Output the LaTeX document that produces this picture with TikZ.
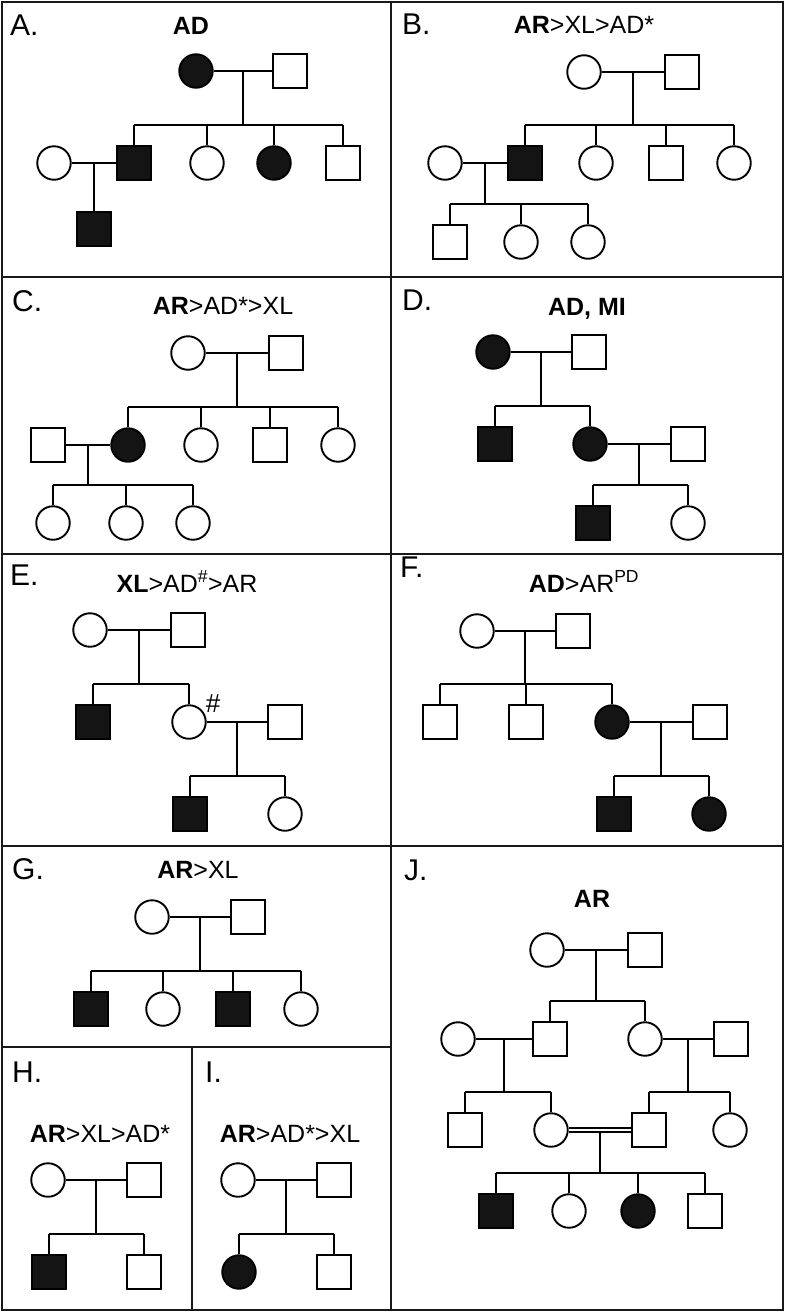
\documentclass[tikz,border=0pt]{standalone}
\usepackage{fontspec}
\setmainfont{Liberation Sans}
\usetikzlibrary{calc}
\definecolor{pedfill}{HTML}{141414}
\tikzset{
  male/.style={draw=black, line width=1.9pt, rectangle, minimum size=33.5pt, inner sep=0pt, fill=white},
  female/.style={draw=black, line width=1.9pt, circle, minimum size=33.5pt, inner sep=0pt, fill=white},
  affm/.style={male, fill=pedfill},
  afff/.style={female, fill=pedfill},
  link/.style={line width=2pt},
  panelframe/.style={draw=black!90, line width=2pt},
  plabel/.style={font=\fontsize{30}{30}\selectfont, anchor=base west, inner sep=0pt},
  ptitle/.style={font=\fontsize{25}{25}\selectfont, anchor=base, inner sep=0pt},
}
\newcommand{\SibRow}[3]{%
  \foreach \s/\x [count=\i] in {#3} {
    \node[\s] (#1\i) at (\x,#2) {};
  }
}
\newcommand{\SibLines}[3]{%
  \draw[link] (#11.north |- #3) -- (#1#2.north |- #3);
  \foreach \i in {1,...,#2} {
    \draw[link] (#1\i.north) -- (#1\i.north |- #3);
  }
}

\begin{document}
\begin{tikzpicture}[x=1pt, y=-1pt]
  \useasboundingbox (0,0) rectangle (785,1312);
  \draw[panelframe] (2,2) rectangle (783,1310);
  \draw[panelframe] (391,2) -- (391,1310);
  \draw[panelframe] (2,277) -- (783,277);
  \draw[panelframe] (2,554) -- (783,554);
  \draw[panelframe] (2,846) -- (783,846);
  \draw[panelframe] (2,1047) -- (391,1047);
  \draw[panelframe] (192,1047) -- (192,1310);

  % A
  \node[plabel] (Alab) at (10,35) {A.};
  \node[ptitle] (Atit) at (191,34) {\bfseries AD};
  \node[afff] (A1) at (196,71) {};
  \node[male] (A2) at (290,71) {};
  \SibRow{Ac}{163}{affm/134,female/207,afff/274,male/343}
  \node[female] (Asp) at (54,163) {};
  \node[affm] (Ag1) at (94,229) {};
  \coordinate (Amid) at ($(A1)!0.5!(A2)$);
  \coordinate (Asib) at ($(Amid |- Ac1)+(0,-38)$);
  \coordinate (Amid2) at ($(Asp)!0.5!(Ac1)$);
  \draw[link] (A1) -- (A2);
  \draw[link] (Amid) -- (Asib);
  \SibLines{Ac}{4}{Asib}
  \draw[link] (Asp) -- (Ac1);
  \draw[link] (Amid2) -- (Ag1);

  % B
  \node[plabel] (Blab) at (402,34) {B.};
  \node[ptitle] (Btit) at (584,33) {\textbf{AR}>XL>AD*};
  \node[female] (B1) at (584,72) {};
  \node[male] (B2) at (682,72) {};
  \SibRow{Bc}{163}{affm/525,female/596,male/666,female/734}
  \node[female] (Bsp) at (445,163) {};
  \SibRow{Bg}{242}{male/450,female/521,female/588}
  \coordinate (Bmid) at ($(B1)!0.5!(B2)$);
  \coordinate (Bsib) at ($(Bmid |- Bc1)+(0,-38)$);
  \coordinate (Bmid2) at ($(Bsp)!0.5!(Bc1)$);
  \coordinate (Bsib2) at ($(Bmid2 |- Bg1)+(0,-38)$);
  \draw[link] (B1) -- (B2);
  \draw[link] (Bmid) -- (Bsib);
  \SibLines{Bc}{4}{Bsib}
  \draw[link] (Bsp) -- (Bc1);
  \draw[link] (Bmid2) -- (Bsib2);
  \SibLines{Bg}{3}{Bsib2}

  % C
  \node[plabel] (Clab) at (12,311) {C.};
  \node[ptitle] (Ctit) at (223,314) {\textbf{AR}>AD*>XL};
  \node[female] (C1) at (188,353) {};
  \node[male] (C2) at (286,353) {};
  \SibRow{Cc}{445}{afff/128,female/201,male/270,female/338}
  \node[male] (Csp) at (48,445) {};
  \SibRow{Cg}{523}{female/53,female/126,female/193}
  \coordinate (Cmid) at ($(C1)!0.5!(C2)$);
  \coordinate (Csib) at ($(Cmid |- Cc1)+(0,-38)$);
  \coordinate (Cmid2) at ($(Csp)!0.5!(Cc1)$);
  \coordinate (Csib2) at ($(Cmid2 |- Cg1)+(0,-38)$);
  \draw[link] (C1) -- (C2);
  \draw[link] (Cmid) -- (Csib);
  \SibLines{Cc}{4}{Csib}
  \draw[link] (Csp) -- (Cc1);
  \draw[link] (Cmid2) -- (Csib2);
  \SibLines{Cg}{3}{Csib2}

  % D
  \node[plabel] (Dlab) at (402,310) {D.};
  \node[ptitle] (Dtit) at (587,315) {\bfseries AD, MI};
  \node[afff] (D1) at (493,352) {};
  \node[male] (D2) at (589,352) {};
  \SibRow{Dc}{444}{affm/495,afff/590}
  \node[male] (Dsp) at (688,444) {};
  \SibRow{Dg}{523}{affm/593,female/688}
  \coordinate (Dmid) at ($(D1)!0.5!(D2)$);
  \coordinate (Dsib) at ($(Dmid |- Dc1)+(0,-38)$);
  \coordinate (Dmid2) at ($(Dc2)!0.5!(Dsp)$);
  \coordinate (Dsib2) at ($(Dmid2 |- Dg1)+(0,-38)$);
  \draw[link] (D1) -- (D2);
  \draw[link] (Dmid) -- (Dsib);
  \SibLines{Dc}{2}{Dsib}
  \draw[link] (Dc2) -- (Dsp);
  \draw[link] (Dmid2) -- (Dsib2);
  \SibLines{Dg}{2}{Dsib2}

  % E
  \node[plabel] (Elab) at (10,585) {E.};
  \node[ptitle] (Etit) at (187,592) {\textbf{XL}>AD\textsuperscript{\#}>AR};
  \node[female] (E1) at (90,630) {};
  \node[male] (E2) at (188,630) {};
  \SibRow{Ec}{722}{affm/93,female/189}
  \node[male] (Esp) at (285,722) {};
  \SibRow{Eg}{814}{affm/190,female/285}
  \node[font=\fontsize{26}{26}\selectfont, inner sep=0pt] (Ehash) at (213,704) {\#};
  \coordinate (Emid) at ($(E1)!0.5!(E2)$);
  \coordinate (Esib) at ($(Emid |- Ec1)+(0,-38)$);
  \coordinate (Emid2) at ($(Ec2)!0.5!(Esp)$);
  \coordinate (Esib2) at ($(Emid2 |- Eg1)+(0,-38)$);
  \draw[link] (E1) -- (E2);
  \draw[link] (Emid) -- (Esib);
  \SibLines{Ec}{2}{Esib}
  \draw[link] (Ec2) -- (Esp);
  \draw[link] (Emid2) -- (Esib2);
  \SibLines{Eg}{2}{Esib2}

  % F
  \node[plabel] (Flab) at (400,577) {F.};
  \node[ptitle] (Ftit) at (584,592) {\textbf{AD}>AR\textsuperscript{PD}};
  \node[female] (F1) at (477,631) {};
  \node[male] (F2) at (573,631) {};
  \SibRow{Fc}{722}{male/440,male/526,afff/612}
  \node[male] (Fsp) at (710,722) {};
  \SibRow{Fg}{814}{affm/614,afff/709}
  \coordinate (Fmid) at ($(F1)!0.5!(F2)$);
  \coordinate (Fsib) at ($(Fmid |- Fc1)+(0,-38)$);
  \coordinate (Fmid2) at ($(Fc3)!0.5!(Fsp)$);
  \coordinate (Fsib2) at ($(Fmid2 |- Fg1)+(0,-38)$);
  \draw[link] (F1) -- (F2);
  \draw[link] (Fmid) -- (Fsib);
  \SibLines{Fc}{3}{Fsib}
  \draw[link] (Fc3) -- (Fsp);
  \draw[link] (Fmid2) -- (Fsib2);
  \SibLines{Fg}{2}{Fsib2}

  % G
  \node[plabel] (Glab) at (12,879) {G.};
  \node[ptitle] (Gtit) at (198,878) {\textbf{AR}>XL};
  \node[female] (G1) at (152,917) {};
  \node[male] (G2) at (248,917) {};
  \SibRow{Gc}{1009}{affm/91,female/163,affm/233,female/301}
  \coordinate (Gmid) at ($(G1)!0.5!(G2)$);
  \coordinate (Gsib) at ($(Gmid |- Gc1)+(0,-38)$);
  \draw[link] (G1) -- (G2);
  \draw[link] (Gmid) -- (Gsib);
  \SibLines{Gc}{4}{Gsib}

  % H
  \node[plabel] (Hlab) at (12,1082) {H.};
  \node[ptitle] (Htit) at (100,1142) {\textbf{AR}>XL>AD*};
  \node[female] (H1) at (48,1180) {};
  \node[male] (H2) at (144,1180) {};
  \SibRow{Hc}{1272}{affm/49,male/144}
  \coordinate (Hmid) at ($(H1)!0.5!(H2)$);
  \coordinate (Hsib) at ($(Hmid |- Hc1)+(0,-38)$);
  \draw[link] (H1) -- (H2);
  \draw[link] (Hmid) -- (Hsib);
  \SibLines{Hc}{2}{Hsib}

  % I
  \node[plabel] (Ilab) at (205,1082) {I.};
  \node[ptitle] (Itit) at (290,1142) {\textbf{AR}>AD*>XL};
  \node[female] (I1) at (238,1180) {};
  \node[male] (I2) at (334,1180) {};
  \SibRow{Ic}{1272}{afff/239,male/334}
  \coordinate (Imid) at ($(I1)!0.5!(I2)$);
  \coordinate (Isib) at ($(Imid |- Ic1)+(0,-38)$);
  \draw[link] (I1) -- (I2);
  \draw[link] (Imid) -- (Isib);
  \SibLines{Ic}{2}{Isib}

  % J
  \node[plabel] (Jlab) at (404,880) {J.};
  \node[ptitle] (Jtit) at (592,907) {\bfseries AR};
  \node[female] (J1) at (547,950) {};
  \node[male] (J2) at (645,950) {};
  \SibRow{Jb}{1039}{male/550,female/645}
  \node[female] (Jw1) at (458,1039) {};
  \node[male] (Jw2) at (731,1039) {};
  \SibRow{Jl}{1130}{male/465,female/551}
  \SibRow{Jr}{1130}{male/649,female/730}
  \SibRow{Jk}{1211}{affm/496,female/569,afff/638,male/705}
  \coordinate (Jmid) at ($(J1)!0.5!(J2)$);
  \coordinate (Jsib) at ($(Jmid |- Jb1)+(0,-38)$);
  \coordinate (Jmidl) at ($(Jw1)!0.5!(Jb1)$);
  \coordinate (Jsibl) at ($(Jmidl |- Jl1)+(0,-38)$);
  \coordinate (Jmidr) at ($(Jb2)!0.5!(Jw2)$);
  \coordinate (Jsibr) at ($(Jmidr |- Jr1)+(0,-38)$);
  \coordinate (Jmidk) at ($(Jl2)!0.5!(Jr1)+(0,2)$);
  \coordinate (Jsibk) at ($(Jmidk |- Jk1)+(0,-38)$);
  \draw[link] (J1) -- (J2);
  \draw[link] (Jmid) -- (Jsib);
  \SibLines{Jb}{2}{Jsib}
  \draw[link] (Jw1) -- (Jb1);
  \draw[link] (Jb2) -- (Jw2);
  \draw[link] (Jmidl) -- (Jsibl);
  \SibLines{Jl}{2}{Jsibl}
  \draw[link] (Jmidr) -- (Jsibr);
  \SibLines{Jr}{2}{Jsibr}
  \draw[link, line width=1.5pt, double=white, double distance=2.6pt] (Jl2) -- (Jr1);
  \draw[link] (Jmidk) -- (Jsibk);
  \SibLines{Jk}{4}{Jsibk}
\end{tikzpicture}
\end{document}
